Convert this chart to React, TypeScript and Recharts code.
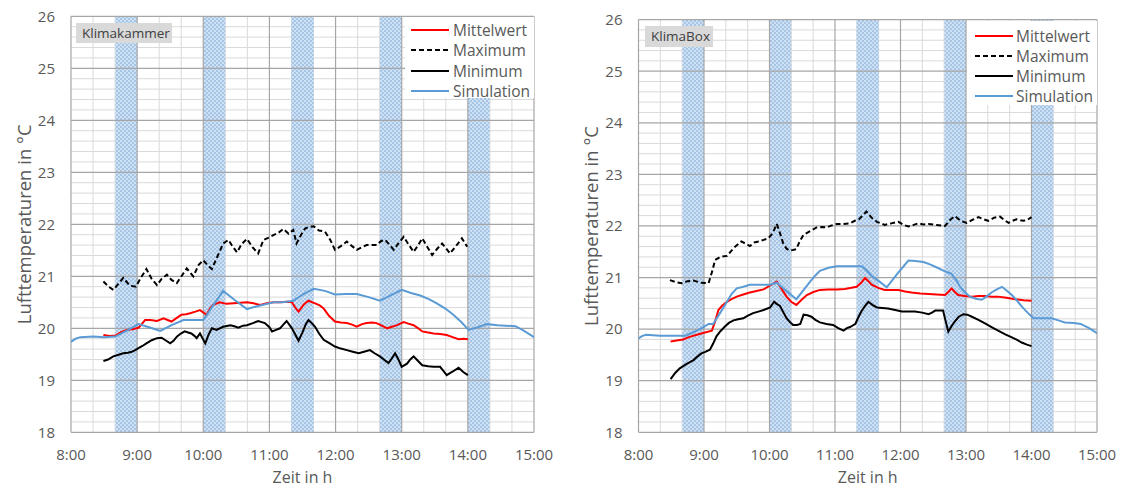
import React from "react";
import { LineChart, Line, XAxis, YAxis, ReferenceLine, ReferenceArea, Legend } from "recharts";

// time axis in hours, temperatures in °C
const hourTicks = [8, 9, 10, 11, 12, 13, 14, 15];
const tempTicks = [18, 19, 20, 21, 22, 23, 24, 25, 26];
const bands: [number, number][] = [
  [8.67, 9.0],
  [10.0, 10.33],
  [11.33, 11.67],
  [12.67, 13.0],
  [14.0, 14.33],
];
const seriesNames = ["Mittelwert", "Maximum", "Minimum", "Simulation"];

// Klimakammer
const kkMittelwert: [number, number][] = [
  [8.49, 19.87], [8.58, 19.85], [8.67, 19.86], [8.75, 19.92], [8.84, 19.97], [8.93, 19.98], [9.02, 20.01],
  [9.07, 20.08], [9.12, 20.16], [9.2, 20.16], [9.3, 20.14], [9.4, 20.19], [9.46, 20.16], [9.52, 20.13],
  [9.6, 20.2], [9.67, 20.26], [9.74, 20.27], [9.8, 20.29], [9.88, 20.32], [9.95, 20.35], [10.05, 20.26],
  [10.1, 20.38], [10.15, 20.45], [10.25, 20.5], [10.35, 20.47], [10.46, 20.48], [10.56, 20.49], [10.66, 20.5],
  [10.76, 20.48], [10.86, 20.45], [10.96, 20.48], [11.06, 20.5], [11.16, 20.5], [11.26, 20.51], [11.34, 20.5],
  [11.39, 20.4], [11.44, 20.32], [11.52, 20.46], [11.59, 20.53], [11.69, 20.48], [11.76, 20.44], [11.82, 20.38],
  [11.9, 20.24], [11.99, 20.13], [12.08, 20.11], [12.17, 20.1], [12.25, 20.07], [12.32, 20.03], [12.4, 20.08],
  [12.47, 20.1], [12.55, 20.11], [12.62, 20.1], [12.7, 20.05], [12.78, 20.0], [12.85, 20.03], [12.93, 20.06],
  [13.03, 20.12], [13.1, 20.09], [13.18, 20.06], [13.25, 20.0], [13.31, 19.94], [13.4, 19.92], [13.48, 19.9],
  [13.58, 19.89], [13.68, 19.87], [13.77, 19.83], [13.86, 19.79], [13.94, 19.8], [14.0, 19.79],
];
const kkMaximum: [number, number][] = [
  [8.49, 20.9], [8.57, 20.8], [8.64, 20.74], [8.72, 20.86], [8.79, 20.97], [8.89, 20.82], [8.98, 20.8],
  [9.06, 20.98], [9.14, 21.14], [9.22, 20.95], [9.3, 20.83], [9.37, 20.95], [9.45, 21.03], [9.52, 20.93],
  [9.6, 20.87], [9.68, 21.02], [9.75, 21.15], [9.85, 21.0], [9.93, 21.22], [10.0, 21.31], [10.06, 21.22],
  [10.13, 21.14], [10.22, 21.4], [10.3, 21.63], [10.38, 21.7], [10.44, 21.58], [10.51, 21.46], [10.58, 21.62],
  [10.66, 21.72], [10.75, 21.55], [10.83, 21.44], [10.91, 21.7], [10.98, 21.74], [11.06, 21.79], [11.14, 21.84],
  [11.21, 21.91], [11.29, 21.82], [11.36, 21.89], [11.41, 21.63], [11.48, 21.8], [11.54, 21.92], [11.6, 21.95],
  [11.67, 21.96], [11.75, 21.88], [11.84, 21.86], [11.92, 21.7], [11.99, 21.51], [12.08, 21.58], [12.17, 21.67],
  [12.25, 21.58], [12.32, 21.51], [12.4, 21.56], [12.47, 21.6], [12.55, 21.6], [12.62, 21.6], [12.69, 21.68],
  [12.75, 21.7], [12.82, 21.6], [12.88, 21.51], [12.96, 21.65], [13.03, 21.76], [13.1, 21.62], [13.18, 21.47],
  [13.25, 21.6], [13.31, 21.73], [13.38, 21.58], [13.46, 21.41], [13.53, 21.52], [13.61, 21.63], [13.67, 21.54],
  [13.73, 21.44], [13.82, 21.58], [13.91, 21.73], [13.99, 21.57],
];
const kkMinimum: [number, number][] = [
  [8.49, 19.37], [8.56, 19.4], [8.64, 19.46], [8.72, 19.49], [8.79, 19.52], [8.86, 19.53], [8.92, 19.55],
  [8.97, 19.58], [9.02, 19.62], [9.08, 19.66], [9.14, 19.71], [9.22, 19.77], [9.3, 19.81], [9.37, 19.82],
  [9.44, 19.76], [9.5, 19.71], [9.55, 19.76], [9.6, 19.84], [9.66, 19.9], [9.72, 19.94], [9.77, 19.92],
  [9.82, 19.9], [9.87, 19.85], [9.9, 19.81], [9.95, 19.9], [10.03, 19.71], [10.08, 19.88], [10.13, 20.0],
  [10.2, 19.97], [10.3, 20.03], [10.41, 20.06], [10.47, 20.04], [10.53, 20.01], [10.6, 20.05], [10.66, 20.06],
  [10.75, 20.1], [10.83, 20.14], [10.93, 20.1], [11.0, 20.02], [11.04, 19.94], [11.1, 19.97], [11.16, 20.0],
  [11.21, 20.07], [11.26, 20.14], [11.3, 20.07], [11.34, 20.0], [11.39, 19.88], [11.44, 19.76], [11.5, 19.92],
  [11.55, 20.08], [11.59, 20.16], [11.64, 20.1], [11.69, 20.03], [11.75, 19.9], [11.82, 19.78], [11.9, 19.72],
  [11.99, 19.65], [12.08, 19.61], [12.17, 19.58], [12.26, 19.55], [12.35, 19.52], [12.43, 19.55], [12.52, 19.58],
  [12.59, 19.52], [12.67, 19.46], [12.73, 19.4], [12.8, 19.33], [12.85, 19.42], [12.9, 19.52], [12.95, 19.4],
  [13.0, 19.26], [13.08, 19.32], [13.13, 19.4], [13.18, 19.46], [13.24, 19.38], [13.31, 19.29], [13.4, 19.27],
  [13.48, 19.26], [13.58, 19.26], [13.63, 19.18], [13.68, 19.1], [13.76, 19.16], [13.86, 19.24], [13.93, 19.16],
  [14.0, 19.1],
];
const kkSimulation: [number, number][] = [
  [8.0, 19.74], [8.07, 19.8], [8.14, 19.83], [8.34, 19.84], [8.5, 19.83], [8.67, 19.84], [8.85, 19.96],
  [9.02, 20.08], [9.18, 20.02], [9.35, 19.95], [9.52, 20.06], [9.7, 20.16], [10.0, 20.16], [10.15, 20.44],
  [10.3, 20.72], [10.48, 20.54], [10.66, 20.37], [10.86, 20.44], [11.06, 20.5], [11.2, 20.5], [11.36, 20.53],
  [11.52, 20.66], [11.67, 20.76], [11.84, 20.72], [11.99, 20.65], [12.15, 20.66], [12.32, 20.66], [12.5, 20.6],
  [12.67, 20.53], [12.84, 20.64], [13.0, 20.74], [13.14, 20.68], [13.28, 20.63], [13.41, 20.56], [13.53, 20.48],
  [13.66, 20.38], [13.78, 20.26], [13.9, 20.12], [14.01, 19.97], [14.15, 20.02], [14.29, 20.08], [14.45, 20.06],
  [14.57, 20.05], [14.72, 20.04], [14.85, 19.95], [15.0, 19.83],
];

// KlimaBox
const kbMittelwert: [number, number][] = [
  [8.49, 19.76], [8.58, 19.78], [8.68, 19.8], [8.78, 19.85], [8.89, 19.89], [9.0, 19.93], [9.12, 19.97],
  [9.17, 20.15], [9.22, 20.37], [9.28, 20.46], [9.35, 20.53], [9.42, 20.58], [9.5, 20.63], [9.6, 20.67],
  [9.7, 20.71], [9.8, 20.74], [9.91, 20.77], [10.03, 20.86], [10.11, 20.92], [10.18, 20.79], [10.26, 20.63],
  [10.33, 20.53], [10.41, 20.47], [10.49, 20.57], [10.57, 20.66], [10.67, 20.72], [10.77, 20.76], [10.9, 20.77],
  [11.03, 20.77], [11.15, 20.78], [11.25, 20.8], [11.33, 20.82], [11.4, 20.9], [11.46, 20.99], [11.51, 20.93],
  [11.56, 20.86], [11.66, 20.8], [11.76, 20.76], [11.87, 20.76], [11.97, 20.76], [12.07, 20.73], [12.17, 20.71],
  [12.3, 20.69], [12.43, 20.68], [12.55, 20.67], [12.68, 20.66], [12.73, 20.72], [12.78, 20.79], [12.83, 20.72],
  [12.88, 20.66], [12.98, 20.64], [13.09, 20.63], [13.19, 20.64], [13.29, 20.64], [13.39, 20.63], [13.49, 20.63],
  [13.62, 20.61], [13.75, 20.58], [13.88, 20.56], [14.0, 20.55],
];
const kbMaximum: [number, number][] = [
  [8.48, 20.95], [8.57, 20.91], [8.66, 20.89], [8.75, 20.93], [8.84, 20.94], [8.95, 20.9], [9.07, 20.89],
  [9.12, 21.1], [9.17, 21.34], [9.25, 21.4], [9.35, 21.42], [9.46, 21.58], [9.57, 21.7], [9.63, 21.66],
  [9.7, 21.61], [9.77, 21.68], [9.83, 21.7], [9.91, 21.73], [9.98, 21.76], [10.05, 21.86], [10.11, 22.04],
  [10.16, 21.86], [10.21, 21.66], [10.26, 21.56], [10.31, 21.52], [10.41, 21.55], [10.46, 21.7], [10.52, 21.83],
  [10.62, 21.9], [10.72, 21.97], [10.8, 21.98], [10.87, 21.97], [10.95, 22.01], [11.03, 22.04], [11.13, 22.04],
  [11.23, 22.05], [11.3, 22.1], [11.36, 22.12], [11.42, 22.2], [11.48, 22.28], [11.56, 22.16], [11.64, 22.08],
  [11.7, 22.05], [11.76, 22.02], [11.86, 22.05], [11.97, 22.08], [12.05, 22.02], [12.12, 21.99], [12.2, 22.02],
  [12.27, 22.05], [12.35, 22.03], [12.43, 22.04], [12.55, 22.02], [12.68, 22.0], [12.76, 22.12], [12.83, 22.19],
  [12.92, 22.1], [13.01, 22.06], [13.1, 22.12], [13.19, 22.17], [13.27, 22.13], [13.34, 22.1], [13.43, 22.16],
  [13.52, 22.18], [13.58, 22.12], [13.65, 22.06], [13.71, 22.1], [13.77, 22.13], [13.83, 22.11], [13.88, 22.1],
  [13.94, 22.12], [14.0, 22.17],
];
const kbMinimum: [number, number][] = [
  [8.49, 19.03], [8.56, 19.15], [8.63, 19.24], [8.73, 19.32], [8.84, 19.4], [8.9, 19.47], [8.96, 19.53],
  [9.02, 19.56], [9.09, 19.6], [9.14, 19.72], [9.19, 19.86], [9.25, 19.96], [9.32, 20.05], [9.38, 20.12],
  [9.45, 20.17], [9.52, 20.19], [9.6, 20.21], [9.67, 20.26], [9.75, 20.31], [9.83, 20.34], [9.91, 20.37],
  [10.01, 20.42], [10.07, 20.53], [10.11, 20.49], [10.16, 20.45], [10.21, 20.33], [10.26, 20.21], [10.31, 20.14],
  [10.36, 20.08], [10.42, 20.08], [10.47, 20.1], [10.52, 20.28], [10.58, 20.27], [10.64, 20.24], [10.7, 20.18],
  [10.77, 20.13], [10.87, 20.1], [10.97, 20.08], [11.05, 20.02], [11.13, 19.97], [11.18, 20.02], [11.23, 20.04],
  [11.27, 20.07], [11.31, 20.1], [11.36, 20.24], [11.41, 20.36], [11.46, 20.45], [11.51, 20.53], [11.57, 20.47],
  [11.64, 20.42], [11.72, 20.41], [11.81, 20.4], [11.92, 20.37], [12.02, 20.34], [12.12, 20.34], [12.22, 20.34],
  [12.33, 20.32], [12.43, 20.29], [12.48, 20.32], [12.53, 20.36], [12.65, 20.36], [12.69, 20.15], [12.73, 19.95],
  [12.78, 20.06], [12.83, 20.15], [12.89, 20.24], [12.96, 20.29], [13.02, 20.28], [13.09, 20.24], [13.19, 20.18],
  [13.29, 20.11], [13.39, 20.04], [13.49, 19.97], [13.6, 19.9], [13.7, 19.84], [13.78, 19.79], [13.85, 19.74],
  [13.93, 19.7], [14.0, 19.67],
];
const kbSimulation: [number, number][] = [
  [8.0, 19.82], [8.06, 19.87], [8.12, 19.89], [8.22, 19.88], [8.33, 19.87], [8.5, 19.87], [8.71, 19.87],
  [8.8, 19.92], [8.89, 19.97], [8.98, 20.03], [9.07, 20.1], [9.14, 20.1], [9.24, 20.3], [9.35, 20.53],
  [9.42, 20.68], [9.5, 20.79], [9.6, 20.82], [9.7, 20.86], [9.85, 20.86], [10.01, 20.86], [10.11, 20.9],
  [10.26, 20.74], [10.41, 20.58], [10.51, 20.74], [10.62, 20.92], [10.7, 21.04], [10.77, 21.13], [10.9, 21.19],
  [11.03, 21.22], [11.23, 21.22], [11.41, 21.22], [11.48, 21.14], [11.56, 21.03], [11.68, 20.92], [11.79, 20.81],
  [11.95, 21.07], [12.12, 21.33], [12.23, 21.32], [12.35, 21.3], [12.46, 21.25], [12.58, 21.18], [12.68, 21.12],
  [12.78, 21.07], [12.85, 20.95], [12.91, 20.82], [12.98, 20.72], [13.06, 20.63], [13.15, 20.59], [13.24, 20.57],
  [13.32, 20.64], [13.39, 20.71], [13.47, 20.77], [13.55, 20.82], [13.62, 20.75], [13.7, 20.66], [13.78, 20.55],
  [13.85, 20.44], [13.94, 20.32], [14.03, 20.21], [14.17, 20.21], [14.31, 20.21], [14.41, 20.17], [14.51, 20.13],
  [14.65, 20.12], [14.75, 20.1], [14.88, 20.02], [15.0, 19.92],
];

const H = 491;
const TXT = "#595959";
const MINOR = "#dadada";
const MAJOR = "#a6a6a6";
const COLORS = ["#ff0000", "#000000", "#000000", "#5b9bd5"];
const DASH = [undefined, "5 3", undefined, undefined];

const isWhole = (v: number) => Math.abs(v - Math.round(v)) < 0.01;
const minorHours = Array.from({ length: 22 }, (_, i) => 8 + i / 3).filter((v) => !isWhole(v));
const minorTemps = Array.from({ length: 41 }, (_, i) => 18 + i * 0.2).filter((v) => !isWhole(v));
const toPts = (a: [number, number][]) => a.map(([h, t]) => ({ h, t }));

function LegendBox({ rowTop, lineX, textX }: { rowTop: number; lineX: number; textX: number }) {
  return (
    <div style={{ position: "relative", width: "100%", height: "100%", background: "#fff" }}>
      {seriesNames.map((name, i) => (
        <div key={name} style={{ position: "absolute", left: 0, top: rowTop + i * 20.3 - 10, height: 20, width: "100%" }}>
          <svg width={40} height={20} style={{ position: "absolute", left: lineX, top: 0 }}>
            <line x1={0} y1={10} x2={38} y2={10} stroke={COLORS[i]} strokeWidth={2} strokeDasharray={DASH[i]} />
          </svg>
          <span style={{ position: "absolute", left: textX, top: 0, lineHeight: "20px", fontSize: 15.5, color: TXT, whiteSpace: "nowrap" }}>
            {name}
          </span>
        </div>
      ))}
    </div>
  );
}

type PanelProps = {
  id: string;
  x: number;
  width: number;
  top: number;
  axisW: number;
  right: number;
  yTitleX: number;
  title: string;
  titleBox: { left: number; top: number; width: number; height: number };
  legend: { left: number; top: number; width: number; height: number; rowTop: number; lineX: number; textX: number };
  series: [number, number][][];
};

function Panel(p: PanelProps) {
  const plotBottom = H - 58.7;
  const plotMid = (p.top + plotBottom) / 2;
  return (
    <div style={{ position: "absolute", left: p.x, top: 0, width: p.width, height: H }}>
      <LineChart width={p.width} height={H} margin={{ top: p.top, right: p.right, bottom: 28.7, left: 0 }}>
        <defs>
          <pattern id={`hatch-${p.id}`} width={4} height={4} patternUnits="userSpaceOnUse">
            <rect width={4} height={4} fill="#a6c6e8" />
            <circle cx={1} cy={1} r={0.95} fill="#e2ecf8" />
            <circle cx={3} cy={3} r={0.95} fill="#e2ecf8" />
          </pattern>
        </defs>
        <XAxis
          type="number"
          dataKey="h"
          domain={[8, 15]}
          ticks={hourTicks}
          interval={0}
          allowDataOverflow
          tickFormatter={(v: number) => `${v}:00`}
          axisLine={false}
          tickLine={false}
          tickSize={0}
          tickMargin={17}
          height={30}
          tick={{ fill: TXT, fontSize: 15 }}
          label={(lp: any) => {
            const vb = lp?.viewBox ?? { x: p.axisW, width: p.width - p.axisW - p.right, y: plotBottom };
            return (
              <text x={vb.x + vb.width / 2} y={plotBottom + 51} textAnchor="middle" fill={TXT} fontSize={16}>
                Zeit in h
              </text>
            );
          }}
        />
        <YAxis
          type="number"
          domain={[18, 26]}
          ticks={tempTicks}
          interval={0}
          allowDataOverflow
          width={p.axisW}
          axisLine={false}
          tickLine={false}
          tickSize={0}
          tickMargin={16}
          tick={{ fill: TXT, fontSize: 15 }}
          label={() => (
            <text
              x={p.yTitleX}
              y={plotMid}
              transform={`rotate(-90 ${p.yTitleX} ${plotMid})`}
              textAnchor="middle"
              dominantBaseline="central"
              fill={TXT}
              fontSize={18.5}
            >
              Lufttemperaturen in °C
            </text>
          )}
        />
        {minorTemps.map((v) => (
          <ReferenceLine key={`mt${v}`} y={v} stroke={MINOR} strokeWidth={1} zIndex={-100} />
        ))}
        {minorHours.map((v) => (
          <ReferenceLine key={`mh${v}`} x={v} stroke={MINOR} strokeWidth={1} zIndex={-100} />
        ))}
        {bands.map(([a, b]) => (
          <ReferenceArea key={`b${a}`} x1={a} x2={b} y1={18} y2={26} fill={`url(#hatch-${p.id})`} fillOpacity={1} stroke="none" zIndex={-90} />
        ))}
        {tempTicks.map((v) => (
          <ReferenceLine key={`Mt${v}`} y={v} stroke={MAJOR} strokeWidth={1.2} zIndex={-80} />
        ))}
        {hourTicks.map((v) => (
          <ReferenceLine key={`Mh${v}`} x={v} stroke={MAJOR} strokeWidth={1.2} zIndex={-80} />
        ))}
        {p.series.map((s, i) => (
          <Line
            key={seriesNames[i]}
            name={seriesNames[i]}
            data={toPts(s)}
            dataKey="t"
            type="linear"
            stroke={COLORS[i]}
            strokeWidth={2}
            strokeDasharray={DASH[i]}
            dot={false}
            activeDot={false}
            isAnimationActive={false}
          />
        ))}
        <Legend
          layout="vertical"
          align="center"
          verticalAlign="middle"
          wrapperStyle={{ left: p.legend.left, top: p.legend.top, width: p.legend.width, height: p.legend.height }}
          content={() => <LegendBox rowTop={p.legend.rowTop} lineX={p.legend.lineX} textX={p.legend.textX} />}
        />
      </LineChart>
      <div
        style={{
          position: "absolute",
          ...p.titleBox,
          background: "#d9d9d9",
          color: "#404040",
          fontSize: 13.5,
          lineHeight: `${p.titleBox.height}px`,
          paddingLeft: 6,
          boxSizing: "border-box",
          whiteSpace: "nowrap",
        }}
      >
        {p.title}
      </div>
    </div>
  );
}

export default function App() {
  return (
    <div
      style={{
        position: "absolute",
        left: 0,
        top: 0,
        width: 1123,
        height: H,
        background: "#fff",
        fontFamily: '"Open Sans", sans-serif',
        overflow: "hidden",
      }}
    >
      <Panel
        id="kk"
        x={0}
        width={560}
        top={16.3}
        axisW={71}
        right={26}
        yTitleX={24}
        title="Klimakammer"
        titleBox={{ left: 76, top: 23, width: 96, height: 20 }}
        legend={{ left: 405, top: 17, width: 129, height: 81, rowTop: 13, lineX: 6, textX: 48 }}
        series={[kkMittelwert, kkMaximum, kkMinimum, kkSimulation]}
      />
      <Panel
        id="kb"
        x={560}
        width={563}
        top={19.6}
        axisW={78.5}
        right={26}
        yTitleX={31}
        title="KlimaBox"
        titleBox={{ left: 85, top: 26, width: 68, height: 21 }}
        legend={{ left: 407, top: 20.6, width: 130, height: 84, rowTop: 15, lineX: 8, textX: 49 }}
        series={[kbMittelwert, kbMaximum, kbMinimum, kbSimulation]}
      />
    </div>
  );
}
